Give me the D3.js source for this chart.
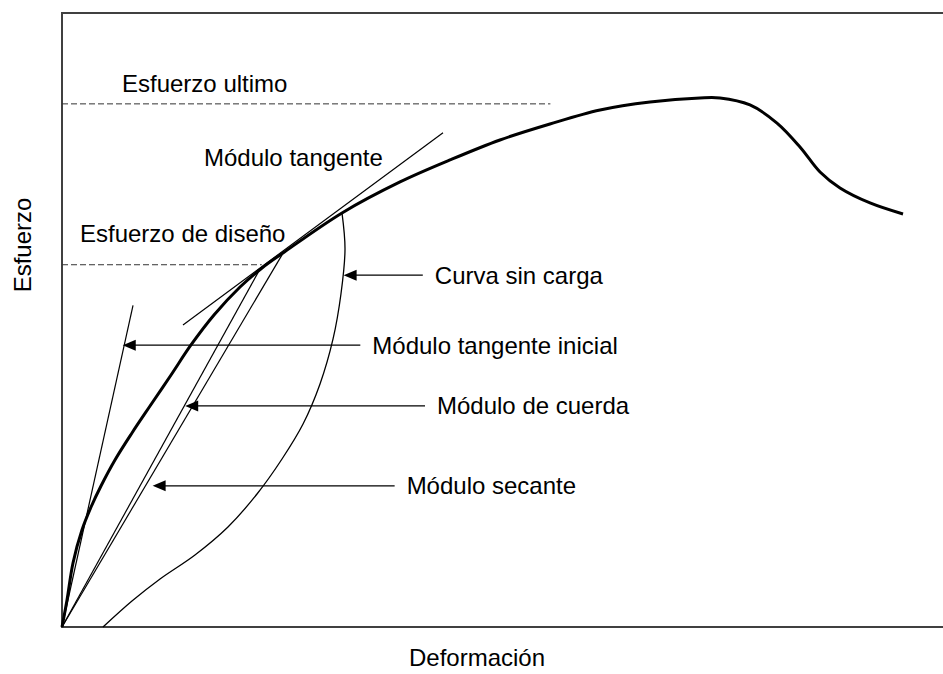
<!DOCTYPE html>
<html>
<head>
<meta charset="utf-8">
<script src="https://cdn.jsdelivr.net/npm/d3@7"></script>
<style>
  body { margin: 0; background: #fff; }
  svg text { font-family: "Liberation Sans", Arial, sans-serif; fill: #000; }
</style>
</head>
<body>
<div id="chart"></div>
<script>
// Curva esfuerzo-deformacion (unidades relativas 0-100)
let curveX = [0, 0.57, 1.25, 2.27, 3.30, 4.43, 6.02, 7.95, 10.0, 12.39, 14.66, 17.27, 20.23, 22.73, 25.11, 31.82, 38.41, 44.09, 49.77, 55.45, 61.14, 66.82, 72.50, 74.77, 78.18, 81.25, 83.86, 86.14, 88.41, 91.82, 95.57];
let curveY = [0, 4.40, 10.42, 15.80, 19.54, 22.96, 27.20, 31.60, 35.99, 41.04, 45.93, 50.81, 55.37, 58.47, 60.91, 67.43, 72.48, 76.06, 79.32, 81.92, 84.20, 85.50, 86.16, 86.16, 85.02, 82.08, 78.18, 74.10, 71.50, 69.06, 67.26];

// Curva sin carga
let unloadX = [31.82, 32.16, 31.70, 30.80, 29.32, 27.39, 25.00, 22.16, 18.86, 15.11, 11.14, 7.95, 4.66];
let unloadY = [67.40, 61.56, 54.23, 46.91, 39.58, 33.06, 27.36, 21.66, 16.29, 11.73, 7.82, 4.23, 0];

// Rectas de modulo: [x1, y1, x2, y2]
let tangentLine = [13.75, 49.2, 43.3, 80.5];
let initialLine = [0, 0, 8.07, 52.4];
let chordLine = [0, 0, 25.0, 60.6];
let secantLine = [0, 0, 22.3, 57.8];

// Niveles de esfuerzo (y, x final)
let ultimateStress = [85.2, 55.5];
let designStress = [59.0, 22.7];

// Flechas: etiqueta, y, punta, cola
let arrowLabels = ["Curva sin carga", "Módulo tangente inicial", "Módulo de cuerda", "Módulo secante"];
let arrowY = [57.3, 45.9, 36.0, 23.0];
let arrowTip = [32.0, 6.9, 14.0, 10.3];
let arrowTail = [41.0, 33.9, 41.25, 37.8];

let width = 943, height = 674;
let x0 = 62, x1 = 942, y0 = 627, y1 = 13;
let fs = "24px";

let x = d3.scaleLinear().domain([0, 100]).range([x0, x1]);
let y = d3.scaleLinear().domain([0, 100]).range([y0, y1]);

let svg = d3.select("#chart").append("svg")
    .attr("width", width)
    .attr("height", height);

// marco
svg.append("path")
    .attr("d", "M" + 943 + "," + y1 + "H" + x0 + "V" + y0 + "H" + 943)
    .attr("fill", "none")
    .attr("stroke", "#404040")
    .attr("stroke-width", 2);

let line = d3.line()
    .x(d => x(d[0]))
    .y(d => y(d[1]))
    .curve(d3.curveCatmullRom.alpha(0.5));

// lineas discontinuas
[ultimateStress, designStress].forEach(function(s) {
  svg.append("line")
      .attr("x1", x(0)).attr("x2", x(s[1]))
      .attr("y1", y(s[0])).attr("y2", y(s[0]))
      .attr("stroke", "#333")
      .attr("stroke-width", 1)
      .attr("stroke-dasharray", "6,3");
});

// rectas finas
[tangentLine, initialLine, chordLine, secantLine].forEach(function(l) {
  svg.append("line")
      .attr("x1", x(l[0])).attr("y1", y(l[1]))
      .attr("x2", x(l[2])).attr("y2", y(l[3]))
      .attr("stroke", "#000")
      .attr("stroke-width", 1.2);
});

// curva sin carga
svg.append("path")
    .datum(unloadX.map((v, i) => [v, unloadY[i]]))
    .attr("d", line)
    .attr("fill", "none")
    .attr("stroke", "#000")
    .attr("stroke-width", 1.3);

// curva principal
svg.append("path")
    .datum(curveX.map((v, i) => [v, curveY[i]]))
    .attr("d", line)
    .attr("fill", "none")
    .attr("stroke", "#000")
    .attr("stroke-width", 3);

// flechas
arrowLabels.forEach(function(label, i) {
  let ty = y(arrowY[i]), tip = x(arrowTip[i]), tail = x(arrowTail[i]);
  svg.append("line")
      .attr("x1", tip + 10).attr("x2", tail)
      .attr("y1", ty).attr("y2", ty)
      .attr("stroke", "#000")
      .attr("stroke-width", 1.3);
  svg.append("path")
      .attr("d", "M" + tip + "," + ty + "L" + (tip + 13) + "," + (ty - 5.5) + "L" + (tip + 13) + "," + (ty + 5.5) + "Z")
      .attr("fill", "#000");
  svg.append("text")
      .attr("x", tail + 12)
      .attr("y", ty + 8.5)
      .style("font-size", fs)
      .text(label);
});

// etiquetas
svg.append("text").attr("x", 122).attr("y", 92).style("font-size", fs).text("Esfuerzo ultimo");
svg.append("text").attr("x", 204).attr("y", 166).style("font-size", fs).text("Módulo tangente");
svg.append("text").attr("x", 80).attr("y", 242).style("font-size", fs).text("Esfuerzo de diseño");

svg.append("text")
    .attr("x", 477)
    .attr("y", 666)
    .attr("text-anchor", "middle")
    .style("font-size", fs)
    .text("Deformación");

svg.append("text")
    .attr("transform", "translate(31," + 245 + ") rotate(-90)")
    .attr("text-anchor", "middle")
    .style("font-size", fs)
    .text("Esfuerzo");
</script>
</body>
</html>
